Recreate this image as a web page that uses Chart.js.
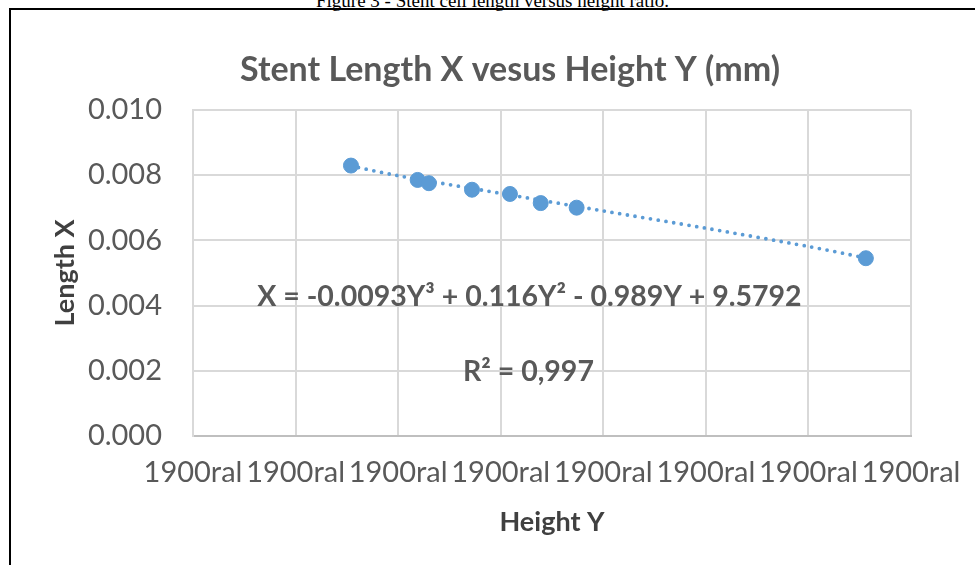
<!DOCTYPE html>
<html>
<head>
<meta charset="utf-8">
<script src="https://cdn.jsdelivr.net/npm/chart.js@4"></script>
<style>
  html, body { margin: 0; padding: 0; background: #fff; overflow: hidden; width: 975px; height: 565px; }
  #caption {
    position: absolute; left: 0; top: -10px; width: 985px; text-align: center;
    font-family: "Liberation Serif", serif; font-size: 19px; line-height: 21px; color: #000;
  }
  #frame {
    position: absolute; left: 9px; top: 8px; width: 1100px; height: 700px;
    border-left: 2px solid #000; border-top: 2px solid #000;
  }
  #wrap { position: absolute; left: 0; top: 0; width: 1020px; height: 565px; }
</style>
</head>
<body>
<div id="caption">Figure 3 - Stent cell length versus height ratio.</div>
<div id="frame"></div>
<div id="wrap"><canvas id="graph" width="1020" height="565"></canvas></div>
<script>
// values (x in axis units, 8 ticks all labelled "1900ral")
const heightY = [1.54, 2.19, 2.30, 2.72, 3.09, 3.39, 3.74, 6.56];
const lengthX = [0.00829, 0.00785, 0.00775, 0.00755, 0.00742, 0.00714, 0.00700, 0.00545];

// dotted trendline
const trendY = [1.54, 2.0, 3.0, 4.0, 5.0, 6.0, 6.56];
const trendX = [0.00828, 0.00798, 0.00744, 0.00690, 0.00637, 0.00581, 0.00546];

const xTickLabels = ['1900ral', '1900ral', '1900ral', '1900ral', '1900ral', '1900ral', '1900ral', '1900ral'];
const yTicks = [0, 0.002, 0.004, 0.006, 0.008, 0.010];

const blue = '#5B9BD5';
const grey = '#595959';
const fontName = 'Lato';

// equation + R² text, placed in data coordinates
const notes = {
  id: 'notes',
  afterDatasetsDraw(chart) {
    const ctx = chart.ctx, xs = chart.scales.x, ys = chart.scales.y;
    ctx.save();
    ctx.fillStyle = grey;
    ctx.font = 'bold 28.5px ' + fontName;
    ctx.textAlign = 'center';
    ctx.textBaseline = 'middle';
    ctx.fillText('X = -0.0093Y³ + 0.116Y² - 0.989Y + 9.5792', xs.getPixelForValue(3.28), ys.getPixelForValue(0.00428));
    ctx.fillText('R² = 0,997', xs.getPixelForValue(3.27), ys.getPixelForValue(0.00196));
    ctx.restore();
  }
};

const config = {
  type: 'scatter',
  data: {
    datasets: [{
      label: 'Length X',
      data: heightY.map((v, i) => ({x: v, y: lengthX[i]})),
      backgroundColor: blue,
      borderColor: blue,
      pointRadius: 7.5,
      pointHoverRadius: 7.5
    }, {
      label: 'Trend',
      type: 'line',
      data: trendY.map((v, i) => ({x: v, y: trendX[i]})),
      borderColor: blue,
      borderWidth: 3.8,
      borderDash: [0, 7.8],
      borderCapStyle: 'round',
      pointRadius: 0,
      fill: false,
      tension: 0.3
    }]
  },
  options: {
    responsive: false,
    animation: false,
    layout: { padding: 0 },
    plugins: {
      legend: { display: false },
      tooltip: { enabled: false },
      title: {
        display: true,
        text: 'Stent Length X vesus Height Y (mm)',
        color: grey,
        font: { family: fontName, size: 34, weight: 'bold' },
        padding: { top: 50, bottom: 19 }
      }
    },
    scales: {
      x: {
        type: 'linear',
        min: 0, max: 7,
        afterFit(s) { s.height = 129; },
        afterBuildTicks(s) { s.ticks = xTickLabels.map((t, i) => ({value: i})); },
        ticks: {
          color: grey,
          padding: 19,
          maxRotation: 0,
          autoSkip: false,
          font: { family: fontName, size: 29 },
          callback: (v, i) => xTickLabels[i]
        },
        grid: { color: '#D9D9D9', lineWidth: 2, drawTicks: false },
        border: { color: '#BFBFBF', width: 2 },
        title: {
          display: true,
          text: 'Height Y',
          color: '#404040',
          font: { family: fontName, size: 27, weight: 'bold' },
          padding: { top: 0, bottom: 27 }
        }
      },
      y: {
        min: 0, max: 0.010,
        afterFit(s) { s.width = 193; },
        afterBuildTicks(s) { s.ticks = yTicks.map(v => ({value: v})); },
        ticks: {
          color: grey,
          padding: 31,
          font: { family: fontName, size: 29 },
          callback: v => v.toFixed(3)
        },
        grid: { color: '#D9D9D9', lineWidth: 2, drawTicks: false },
        border: { color: '#D9D9D9', width: 2 },
        title: {
          display: true,
          text: 'Length X',
          color: '#404040',
          font: { family: fontName, size: 27, weight: 'bold' },
          padding: { top: 49, bottom: 0 }
        }
      },
      yRight: {
        position: 'right',
        display: true,
        afterFit(s) { s.width = 1020 - 911; },
        ticks: { display: false },
        grid: { display: false, drawTicks: false },
        border: { display: false }
      }
    }
  },
  plugins: [notes]
};

const myChart = new Chart(document.getElementById('graph'), config);
</script>
</body>
</html>
